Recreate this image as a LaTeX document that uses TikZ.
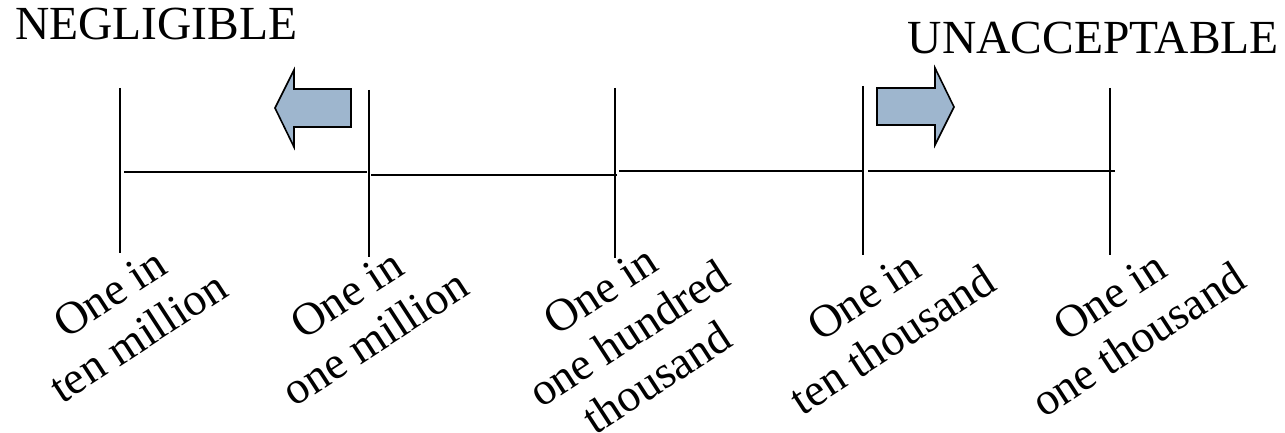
\documentclass[tikz,border=0pt]{standalone}
\usepackage{fontspec}
\setmainfont{Liberation Serif}
\definecolor{arrowfill}{RGB}{158,182,206}
\tikzset{
  tickline/.style={line width=2pt, black},
  baseline seg/.style={line width=1.8pt, black},
  title/.style={inner sep=0pt, font=\fontsize{47.5}{52}\selectfont},
  lab/.style={inner sep=0pt, align=center, rotate=33, font=\fontsize{46}{52}\selectfont},
  fatarrow/.style={fill=arrowfill, draw=black, line width=1.6pt, line join=miter}
}
\begin{document}
\begin{tikzpicture}[x=1pt,y=-1pt]
\useasboundingbox (0,0) rectangle (1285,433);
% ticks
\coordinate (t1) at (120,88);  \coordinate (b1) at (120,253);
\coordinate (t2) at (369,90);  \coordinate (b2) at (369,257);
\coordinate (t3) at (615,88);  \coordinate (b3) at (615,258);
\coordinate (t4) at (863,86);  \coordinate (b4) at (863,255);
\coordinate (t5) at (1110,88); \coordinate (b5) at (1110,255);
\draw[tickline] (t1) -- (b1);
\draw[tickline] (t2) -- (b2);
\draw[tickline] (t3) -- (b3);
\draw[tickline] (t4) -- (b4);
\draw[tickline] (t5) -- (b5);
% horizontal segments
\coordinate (h1a) at (124,172); \coordinate (h1b) at (367,172);
\coordinate (h2a) at (371,175); \coordinate (h2b) at (617,175);
\coordinate (h3a) at (619,171); \coordinate (h3b) at (862,171);
\coordinate (h4a) at (868,171); \coordinate (h4b) at (1115,171);
\draw[baseline seg] (h1a) -- (h1b);
\draw[baseline seg] (h2a) -- (h2b);
\draw[baseline seg] (h3a) -- (h3b);
\draw[baseline seg] (h4a) -- (h4b);
% block arrows
\draw[fatarrow] (275,108) -- (294,70) -- (294,89) -- (351,89) -- (351,127) -- (294,127) -- (294,147) -- cycle;
\draw[fatarrow] (954,107) -- (935,68) -- (935,88) -- (877,88) -- (877,125) -- (935,125) -- (935,145) -- cycle;
% titles
\node[title, anchor=base west] (neg) at (15,40) {NEGLIGIBLE};
\node[title, anchor=base east] (unacc) at (1279,54) {UNACCEPTABLE};
% labels
\node[lab] (l1) at (124,315) {One in\\ten million};
\node[lab] (l2) at (361,316) {One in\\one million};
\node[lab] (l3) at (629,334) {One in\\one hundred\\thousand};
\node[lab] (l4) at (878,318) {One in\\ten thousand};
\node[lab] (l5) at (1124,318) {One in\\one thousand};
\end{tikzpicture}
\end{document}
